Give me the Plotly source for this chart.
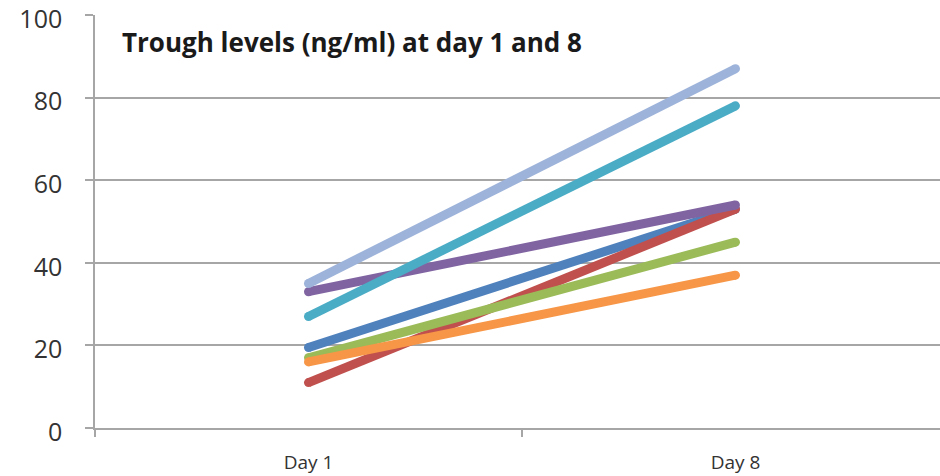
import plotly.graph_objects as go

# Trough levels (ng/ml) per patient, day 1 and day 8
days = ["Day 1", "Day 8"]
patient_1 = [19.5, 53]
patient_2 = [11, 53]
patient_3 = [17, 45]
patient_4 = [33, 54]
patient_5 = [27, 78]
patient_6 = [16, 37]
patient_7 = [35, 87]

series = [patient_1, patient_2, patient_3, patient_4, patient_5, patient_6, patient_7]
colors = ["#4F81BD", "#C0504D", "#9BBB59", "#8064A2", "#4BACC6", "#F79646", "#9DB3DA"]

x_pos = list(range(len(days)))
fig = go.Figure()
for vals, col in zip(series, colors):
    fig.add_trace(go.Scatter(
        x=x_pos, y=vals, mode="lines+markers",
        line=dict(color=col, width=9),
        marker=dict(color=col, size=9, line=dict(width=0)),
        showlegend=False, hoverinfo="skip",
    ))

grid = "#A6A6A6"
fig.update_layout(
    width=940, height=476,
    margin=dict(l=95, r=0, t=15, b=48),
    paper_bgcolor="white", plot_bgcolor="white",
    font=dict(family="Open Sans, sans-serif", color="#404040"),
    annotations=[dict(
        text="<b>Trough levels (ng/ml) at day 1 and 8</b>",
        xref="paper", yref="paper", x=0.030, y=0.935,
        xanchor="left", yanchor="middle", showarrow=False,
        font=dict(size=26, color="#1A1A1A"),
    )],
)
fig.update_xaxes(
    range=[-0.5, 1.479], tickvals=x_pos, ticktext=days,
    showgrid=False, zeroline=False, automargin=False,
    showline=True, linecolor=grid, linewidth=1.5,
    ticks="", ticklabelstandoff=16,
    tickfont=dict(size=19, color="#333333"),
    minor=dict(tick0=-0.5, dtick=1, ticks="outside", ticklen=7, tickcolor=grid, tickwidth=1.5),
)
fig.update_yaxes(
    range=[0, 100], tickvals=[0, 20, 40, 60, 80, 100],
    showgrid=True, gridcolor=grid, gridwidth=1.5,
    zeroline=False, showline=True, linecolor=grid, linewidth=1.5,
    ticks="outside", ticklen=8, tickcolor=grid, tickwidth=1.5,
    ticklabelstandoff=18, ticklabeloverflow="allow", automargin=False,
    ticklabelshift=4,
    tickfont=dict(size=25, color="#333333"),
)

fig.write_html("out.html")
